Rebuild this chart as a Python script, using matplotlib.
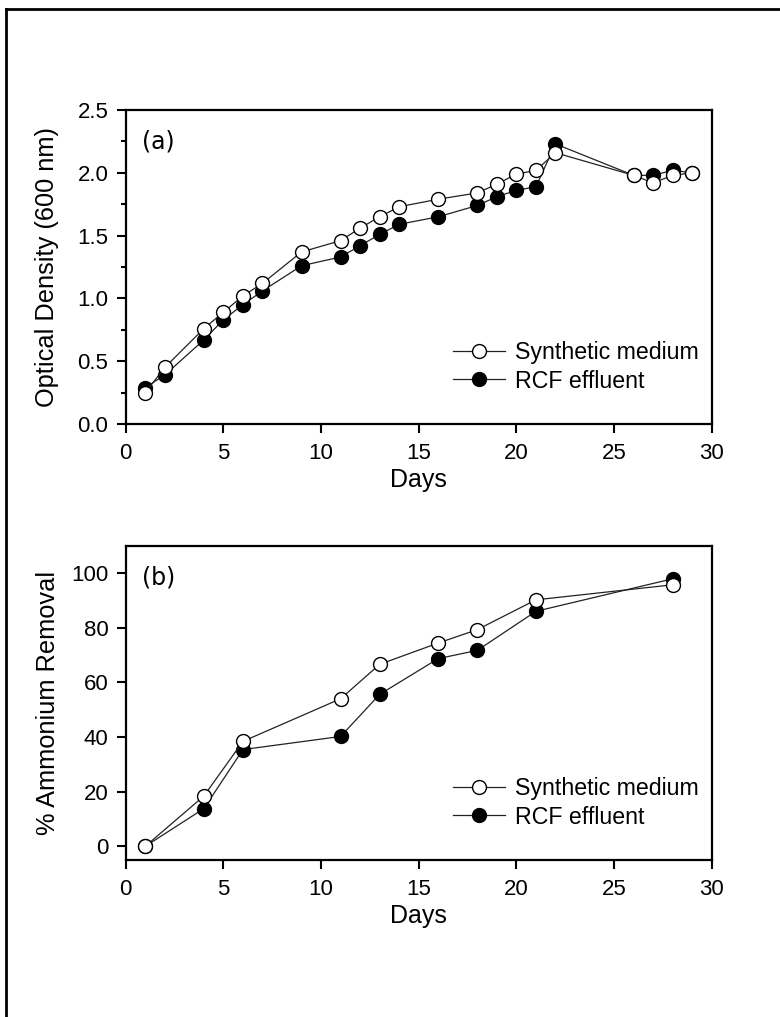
import matplotlib
matplotlib.use("Agg")
import matplotlib.pyplot as plt
from matplotlib.lines import Line2D
from matplotlib.ticker import MultipleLocator, FormatStrFormatter

plt.rcParams['font.family'] = ['Liberation Sans', 'DejaVu Sans']

# Panel (a): optical density
days_a = [1, 2, 4, 5, 6, 7, 9, 11, 12, 13, 14, 16, 18, 19, 20, 21, 22, 26, 27, 28, 29]
od_synthetic = [0.25, 0.45, 0.76, 0.89, 1.02, 1.12, 1.37, 1.46, 1.56, 1.65, 1.73, 1.79, 1.84, 1.91, 1.99, 2.02, 2.16, 1.98, 1.92, 1.98, 2.00]
od_rcf = [0.29, 0.39, 0.67, 0.83, 0.95, 1.06, 1.26, 1.33, 1.42, 1.51, 1.59, 1.65, 1.74, 1.81, 1.86, 1.89, 2.23, 1.98, 1.98, 2.02, 2.00]

# Panel (b): ammonium removal
days_b = [1, 4, 6, 11, 13, 16, 18, 21, 28]
nh4_synthetic = [0.0, 18.4, 38.4, 54.0, 66.6, 74.4, 79.3, 90.2, 95.7]
nh4_rcf = [0.0, 13.8, 35.4, 40.2, 55.6, 68.7, 71.7, 86.0, 97.9]

series_labels = ["Synthetic medium", "RCF effluent"]
panel_labels = ["(a)", "(b)"]

fig = plt.figure(figsize=(7.8, 10.17), dpi=100)
ax1 = fig.add_axes([0.1612, 0.5831, 0.7513, 0.3087])
ax2 = fig.add_axes([0.1612, 0.1544, 0.7513, 0.3090])

ms = 10
line_kw = dict(color='#222222', lw=0.9)

def style(ax):
    for s in ax.spines.values():
        s.set_linewidth(1.6)
    ax.tick_params(axis='both', which='major', direction='out', length=6.5, width=1.5,
                   labelsize=16, pad=6)
    ax.tick_params(axis='x', which='major', pad=7)
    ax.tick_params(axis='both', which='minor', direction='out', length=3.5, width=1.5)
    ax.set_xlim(0, 30)
    ax.xaxis.set_major_locator(MultipleLocator(5))

# (a)
ax1.plot(days_a, od_synthetic, marker='o', ms=ms, mfc='white', mec='black', mew=1.0,
         label=series_labels[0], zorder=3, **line_kw)
ax1.plot(days_a, od_rcf, marker='o', ms=ms, mfc='black', mec='black', mew=1.0,
         label=series_labels[1], zorder=2, **line_kw)
style(ax1)
ax1.set_ylim(0, 2.5)
ax1.yaxis.set_major_locator(MultipleLocator(0.5))
ax1.yaxis.set_minor_locator(MultipleLocator(0.25))
ax1.yaxis.set_major_formatter(FormatStrFormatter('%.1f'))
ax1.set_xlabel("Days", fontsize=18, labelpad=3)
ax1.set_ylabel("Optical Density (600 nm)", fontsize=18.3, labelpad=13)
ax1.text(0.027, 0.9, panel_labels[0], transform=ax1.transAxes, fontsize=17,
         family='DejaVu Sans', va='center', ha='left')

# (b)
ax2.plot(days_b, nh4_synthetic, marker='o', ms=ms, mfc='white', mec='black', mew=1.0,
         label=series_labels[0], zorder=3, **line_kw)
ax2.plot(days_b, nh4_rcf, marker='o', ms=ms, mfc='black', mec='black', mew=1.0,
         label=series_labels[1], zorder=2, **line_kw)
style(ax2)
ax2.set_ylim(-5, 110)
ax2.yaxis.set_major_locator(MultipleLocator(20))
ax2.set_xlabel("Days", fontsize=18, labelpad=3)
ax2.set_ylabel("% Ammonium Removal", fontsize=18.3, labelpad=8)
ax2.text(0.027, 0.9, panel_labels[1], transform=ax2.transAxes, fontsize=17,
         family='DejaVu Sans', va='center', ha='left')

for ax in (ax1, ax2):
    ax.legend(loc='lower right', bbox_to_anchor=(0.977, 0.1), frameon=False,
              fontsize=16.7, handlelength=2.25, handletextpad=0.4, labelspacing=0.22,
              borderaxespad=0, borderpad=0)

# figure frame (top and left edges)
fig.add_artist(Line2D([6/780, 1.0], [1 - 9/1017, 1 - 9/1017], transform=fig.transFigure,
                      color='black', lw=2))
fig.add_artist(Line2D([6/780, 6/780], [0, 1 - 9/1017], transform=fig.transFigure,
                      color='black', lw=2))

fig.savefig("out.png", dpi=100)
